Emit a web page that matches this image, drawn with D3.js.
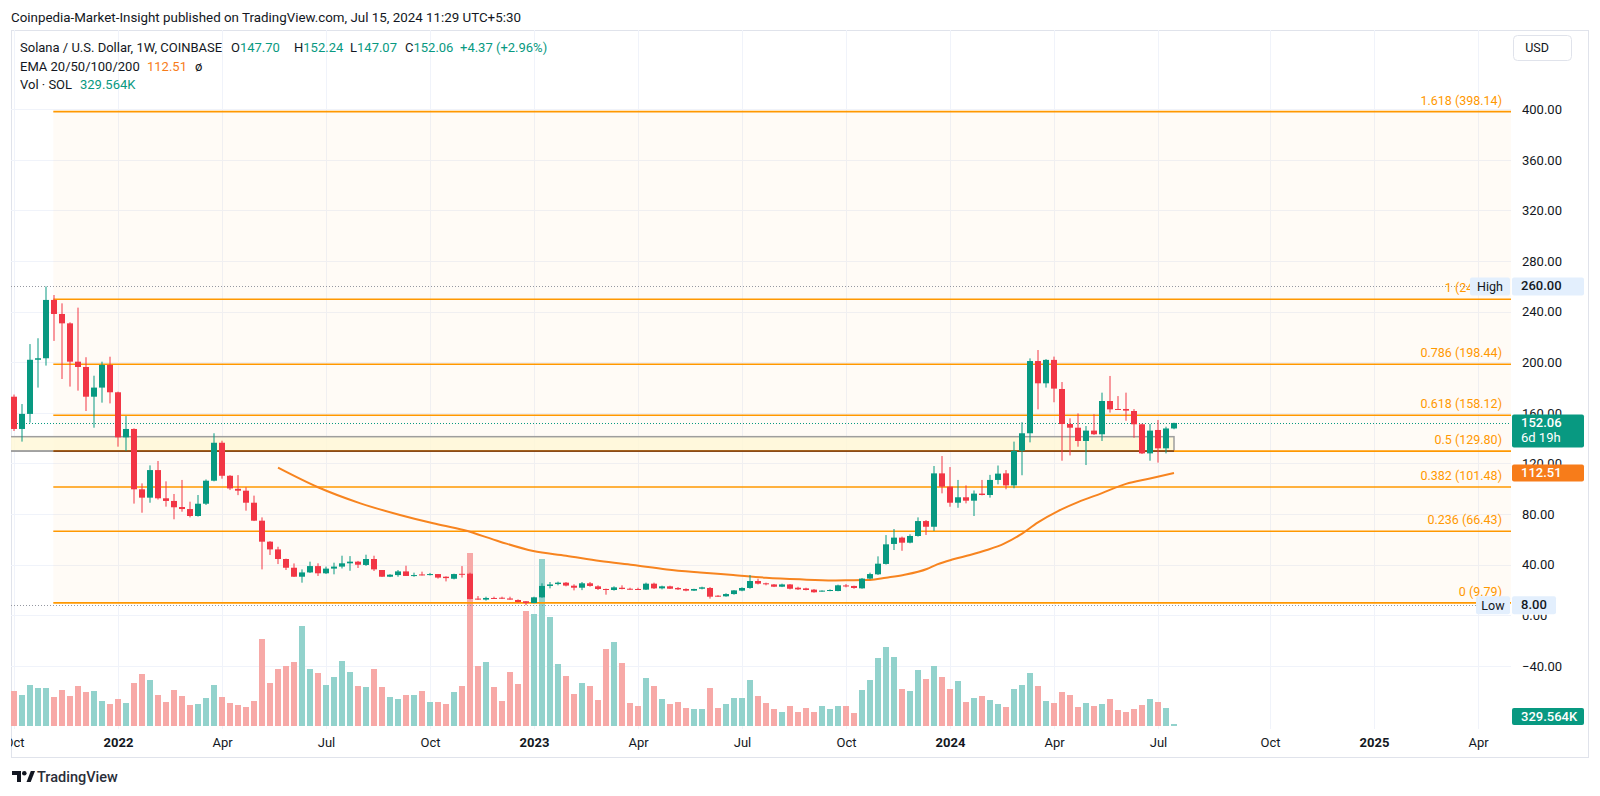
<!DOCTYPE html>
<html>
<head>
<meta charset="utf-8">
<script src="https://cdn.jsdelivr.net/npm/d3@7"></script>
<style>
  html, body { margin: 0; padding: 0; background: #fff; }
  svg { display: block; font-family: Roboto, "Noto Sans", sans-serif; }
</style>
</head>
<body>
<div id="chart"></div>
<script>
// weekly SOL/USD candles, first week = 2021-10-04
const firstWeek = "2021-10-04";

const opens = [
  172.8, 147.3, 159.2, 202, 203.2, 249.3, 238.2, 230.8, 200.5, 196.3,
  172.8, 180, 197.9, 176.3, 140.7, 147.3, 99.6, 93, 114.8, 92.5,
  90.4, 85.6, 84, 78.5, 88.2, 106.4, 136.4, 110.3, 100, 98.5,
  89, 74.8, 58.2, 52.1, 44.5, 37.6, 30.5, 33.9, 38.9, 33.2,
  36.9, 38.5, 41.1, 42.4, 39.8, 44.5, 35.8, 30.5, 31.8, 34.7,
  31.1, 32.3, 31.8, 32.6, 30.5, 28.9, 32.8, 32.9, 13.2, 12.4,
  13.7, 13.9, 13.3, 12.1, 11.1, 9.7, 14.2, 23.2, 24.7, 25.8,
  23.4, 21.8, 25.3, 22.9, 20.8, 20, 21.8, 21, 20.8, 20.3,
  25, 21.3, 22.9, 21.6, 20.8, 19.5, 21, 21.6, 15.5, 15,
  16.8, 19.5, 21.6, 27.1, 25.3, 24.4, 22.6, 24.4, 21.8, 21.3,
  20.3, 19, 19.2, 19.2, 23.6, 23.2, 21.3, 29, 32.4, 40.6,
  56.4, 61.4, 57.4, 62.7, 74.5, 70, 112.2, 101.7, 89, 93.3,
  90.6, 96.2, 95.1, 107, 112.2, 102.7, 130.1, 143.9, 201, 183.4,
  201.9, 178.9, 151.2, 148.3, 137.8, 146, 143.1, 169.4, 163.1, 163.1,
  161.5, 151, 128, 146.5, 132, 147.70
];
const highs = [
  174.5, 167, 214.4, 219, 259.9, 253.2, 246.6, 231.6, 243.2, 204,
  189.4, 200.5, 204.4, 176.8, 157.5, 147.8, 104.3, 118.5, 122, 105.9,
  95.9, 107, 89.8, 95.1, 107.4, 143.9, 138, 110.8, 110.8, 101.2,
  94.6, 77.4, 58.6, 54.2, 44.8, 41, 36.3, 42.4, 41.1, 38.5,
  41.6, 47.1, 46.8, 43, 47.9, 47.1, 35.8, 32.5, 35.8, 39.2,
  33.7, 34.5, 33.5, 32.6, 30.8, 32.9, 38.9, 33.7, 15.2, 14.7,
  14.7, 14.7, 14.7, 12.6, 11.1, 14.7, 25.3, 26.3, 26.6, 26.3,
  24.5, 26.3, 26.3, 23.7, 21.1, 22.9, 23.7, 21.8, 21.8, 25.8,
  25.8, 23.4, 23.4, 22.3, 21.3, 21, 22.6, 22.3, 15.9, 17.4,
  19.9, 22.1, 31.8, 28.9, 25.8, 24.7, 25, 24.7, 22.6, 21.8,
  20.8, 19.7, 20.5, 24.2, 24.7, 23.4, 29.5, 33.7, 46.6, 63.4,
  68.2, 62.2, 64, 77.4, 75.3, 118, 125.9, 117.2, 107, 102.7,
  98.7, 107, 111, 118.4, 114.8, 137.3, 152.6, 203.1, 209.7, 202.5,
  204.5, 184.4, 155.7, 159.6, 149.6, 158.9, 176, 189.2, 173.3, 176,
  163, 151.5, 151.2, 154.4, 149.1, 152.24
];
const lows = [
  145.7, 137.3, 152.3, 180, 197.4, 216.9, 186.8, 180.8, 177.6, 161.5,
  148.3, 168.1, 167.5, 133.3, 129.9, 88.3, 81.1, 89, 91.5, 85.9,
  75.9, 81.9, 77.4, 78, 87.2, 105.9, 108, 99, 95, 82.7,
  74.5, 36.3, 47.7, 40.5, 35.8, 30.3, 25.8, 33.5, 31.1, 32.6,
  32.4, 37, 35.2, 37.4, 39, 35, 30.3, 30.2, 30.5, 31.1,
  30.5, 31.5, 31.5, 29, 26.8, 28.4, 29.8, 12.6, 12.2, 11.6,
  13, 12.9, 12.4, 10.2, 8.0, 9.6, 13.9, 21.3, 23.7, 22.9,
  19.7, 19.9, 22.6, 20, 16.3, 19.5, 20.5, 20.2, 20, 20,
  20.8, 20.5, 20.8, 20, 19, 19.2, 20.5, 13.2, 14.5, 14.7,
  16.3, 19, 21, 24.4, 23.7, 22.3, 22.3, 20.5, 20, 19.7,
  17.9, 18.7, 19, 19, 22.1, 21, 21, 28.4, 31.9, 40.1,
  51.6, 51, 56.9, 62.2, 63.5, 66.7, 96.4, 85.8, 85, 88.5,
  78.5, 94.8, 93, 103.5, 99.6, 100.4, 110.7, 136.7, 162.8, 180,
  168.4, 122.2, 126.4, 133.3, 118.8, 142.6, 137.8, 160.2, 162.4, 153.8,
  140.4, 127.5, 122.2, 120.7, 128, 147.07
];
const closes = [
  147.3, 159.2, 202, 203.2, 249.3, 238.2, 230.8, 200.5, 196.3, 172.8,
  180, 197.9, 176.3, 140.7, 147.3, 99.6, 93, 114.8, 92.5, 90.4,
  85.4, 84, 78.5, 88.2, 106.4, 136.4, 110.3, 100.3, 98.5, 89,
  74.8, 58.2, 52.1, 44.5, 37.6, 30.5, 33.9, 38.9, 33.2, 36.9,
  38.5, 41.1, 42.4, 40, 44.5, 36.3, 30.5, 32.1, 34.7, 31.1,
  31.8, 31.6, 32.6, 29.8, 29.4, 32.6, 32.4, 12.9, 12.4, 13.7,
  13.2, 13.2, 12.4, 10.5, 9.7, 14.2, 23.2, 24.4, 25.8, 23.5,
  21.8, 25.3, 23.2, 20.8, 20.5, 22.1, 20.8, 20.8, 20.5, 25,
  21.3, 22.9, 21, 20.5, 19.5, 20.8, 22.1, 14.7, 15, 16.8,
  19.7, 21.6, 27.1, 25, 24.5, 22.6, 24.4, 21, 20.5, 20,
  18.2, 19.5, 20, 23.7, 22.8, 21.6, 29, 32.6, 40.8, 56.1,
  61.4, 57.4, 62.7, 74.5, 70, 112.2, 101.7, 89, 93.3, 90.6,
  96.2, 95.1, 107, 112, 102.7, 130, 143.9, 201, 183.4, 201.9,
  179.2, 151.2, 148.3, 137.8, 146, 143.1, 169.4, 162.8, 162.6, 161.8,
  151, 128, 146, 132, 147.7, 152.06
];
// volume, millions of SOL
const volumes = [
  6.8, 6.1, 8.1, 7.4, 7.4, 5.7, 7.1, 5.9, 7.9, 6.7,
  6.9, 4.9, 4.3, 5.3, 4.6, 8.5, 10.2, 9.1, 6.1, 4.8,
  7.1, 6.0, 4.1, 4.4, 5.5, 8.1, 5.7, 4.5, 4.1, 3.8,
  4.9, 17.2, 8.5, 11.3, 11.8, 12.6, 19.7, 11.3, 10.4, 8.1,
  9.7, 12.8, 10.7, 7.8, 7.6, 11.3, 7.6, 5.7, 5.3, 6.1,
  6.1, 6.9, 4.8, 4.8, 4.3, 6.7, 7.8, 34.0, 11.9, 12.6,
  7.6, 5.0, 10.6, 8.3, 22.7, 22.0, 33.0, 21.5, 12.2, 9.9,
  6.3, 8.5, 7.8, 5.1, 15.1, 16.5, 12.5, 4.6, 3.9, 9.5,
  7.9, 5.3, 4.4, 4.8, 3.6, 3.4, 3.4, 7.4, 3.6, 4.4,
  5.5, 5.5, 9.1, 5.9, 4.5, 3.3, 2.8, 3.9, 2.8, 3.6,
  2.8, 3.9, 3.3, 3.9, 3.9, 2.6, 7.1, 9.1, 13.4, 15.6,
  13.6, 7.2, 6.9, 11.1, 9.3, 11.9, 9.7, 7.2, 8.9, 4.8,
  5.5, 5.9, 5.1, 4.3, 3.8, 7.2, 8.1, 10.4, 7.8, 5.0,
  4.6, 6.7, 6.1, 3.8, 4.6, 3.9, 4.3, 5.3, 3.1, 2.8,
  3.4, 4.1, 5.3, 4.8, 3.6, 0.33
];

// EMA line (week index, value)
const emaWeeks = [33, 38, 43.3, 48.25, 52.4, 56.2, 60.75, 64.9, 69, 73.25, 77.4, 81.6, 85.75, 89.9, 94, 98.25,
  102.4, 105, 107, 109, 111.2, 114.1, 115.4, 117.4, 119.5, 121.6, 123.7, 125.75, 128, 130.5, 133, 136, 139, 142, 145];
const emaValues = [116.7, 101.2, 88.5, 79.3, 72.7, 67.4, 58.2, 50.8, 47.1, 42.9, 39.7, 36.3, 33.9, 31.8, 29.7, 28.4,
  27.6, 27.8, 27.9, 29.7, 31.9, 36.6, 40.3, 44.3, 47.7, 51.6, 56.4, 63.5, 73.5, 82.4, 89.5, 96.6, 103.9, 108.1, 112.51];

const fibLevels = ["1.618", "1", "0.786", "0.618", "0.5", "0.382", "0.236", "0"];
const fibPrices = [398.14, 249.81, 198.44, 158.12, 129.80, 101.48, 66.43, 9.79];
const fibStart = "2021-11-08";

const boxTop = 141.2, boxBottom = 129.8;   // drawn rectangle
const highPrice = 260, lowPrice = 8;
const lastPrice = 152.06, emaLast = 112.51;

const priceTicks = [400, 360, 320, 280, 240, 200, 160, 120, 80, 40, 0, -40];
const timeTicks = ["2021-10-04", "2022-01-03", "2022-04-04", "2022-07-04", "2022-10-03", "2023-01-02", "2023-04-03",
  "2023-07-03", "2023-10-02", "2024-01-01", "2024-04-01", "2024-07-01", "2024-10-07", "2025-01-06", "2025-04-07"];
const timeLabels = ["Oct", "2022", "Apr", "Jul", "Oct", "2023", "Apr", "Jul", "Oct", "2024", "Apr", "Jul", "Oct", "2025", "Apr"];

//
const W = 1600, H = 796;
const pL = 11, pR = 1511, pT = 30, pB = 729;
const UP = "#089981", DOWN = "#f23645";
const VUP = "#92d2cc", VDOWN = "#f7a9a7";
const FIB = "#ff9800";

const parse = d3.utcParse("%Y-%m-%d");
const week0 = parse(firstWeek);
const weekDate = i => new Date(week0.getTime() + i * 7 * 864e5);
const weeks = opens.map((d, i) => weekDate(i));

const x = d3.scaleUtc().domain([week0, weeks[weeks.length - 1]]).range([14, 1174]);
const y = d3.scaleLinear().domain([0, 400]).range([615.3, 109.3]);
const yVol = d3.scaleLinear().domain([0, 40]).range([726, 523]);

const svg = d3.select("#chart").append("svg")
  .attr("width", W)
  .attr("height", H);

svg.append("rect").attr("width", W).attr("height", H).attr("fill", "#fff");

const defs = svg.append("defs");
defs.append("clipPath").attr("id", "plot")
  .append("rect").attr("x", pL).attr("y", pT).attr("width", pR - pL).attr("height", pB - pT);
defs.append("clipPath").attr("id", "timeclip")
  .append("rect").attr("x", pL).attr("y", pB).attr("width", pR - pL).attr("height", 28);

// header
svg.append("text")
  .attr("x", 11).attr("y", 22)
  .attr("font-size", 13.35).attr("fill", "#131722")
  .text("Coinpedia-Market-Insight published on TradingView.com, Jul 15, 2024 11:29 UTC+5:30");

// frame
svg.append("rect")
  .attr("x", pL + 0.5).attr("y", pT + 0.5)
  .attr("width", 1588 - pL).attr("height", 757 - pT)
  .attr("fill", "none").attr("stroke", "#e0e3eb");

const plot = svg.append("g").attr("clip-path", "url(#plot)");

// grid
plot.append("g").selectAll("line")
  .data(priceTicks)
  .join("line")
  .attr("x1", pL).attr("x2", pR)
  .attr("y1", d => Math.round(y(d)) + 0.5).attr("y2", d => Math.round(y(d)) + 0.5)
  .attr("stroke", "#f0f3fa");
plot.append("g").selectAll("line")
  .data(timeTicks)
  .join("line")
  .attr("x1", d => Math.round(x(parse(d))) + 0.5).attr("x2", d => Math.round(x(parse(d))) + 0.5)
  .attr("y1", pT).attr("y2", pB)
  .attr("stroke", "#f0f3fa");

// fib background
const fx = x(parse(fibStart)) - 0.7;
plot.append("rect")
  .attr("x", fx).attr("y", y(fibPrices[0]))
  .attr("width", pR - fx).attr("height", y(fibPrices[fibPrices.length - 1]) - y(fibPrices[0]))
  .attr("fill", FIB).attr("fill-opacity", 0.035);

// rectangle drawing
const boxRight = x(weeks[weeks.length - 1]);
plot.append("rect")
  .attr("x", 0).attr("y", y(boxTop))
  .attr("width", boxRight).attr("height", y(boxBottom) - y(boxTop))
  .attr("fill", "#fff8d6").attr("fill-opacity", 0.8)
  .attr("stroke", "#9e9e9e").attr("stroke-width", 1.5);

// volume
plot.append("g").selectAll("rect")
  .data(volumes)
  .join("rect")
  .attr("x", (d, i) => x(weeks[i]) - 3)
  .attr("width", 6)
  .attr("y", d => yVol(d))
  .attr("height", d => Math.max(1, yVol(0) - yVol(d)))
  .attr("fill", (d, i) => closes[i] >= opens[i] ? VUP : VDOWN)
  .attr("shape-rendering", "crispEdges");

// fib lines
plot.append("g").selectAll("line")
  .data(fibPrices)
  .join("line")
  .attr("x1", fx).attr("x2", pR)
  .attr("y1", d => y(d)).attr("y2", d => y(d))
  .attr("stroke", FIB).attr("stroke-width", 1.6);
// 0.5 line where it lies over the rectangle edge
plot.append("line")
  .attr("x1", fx).attr("x2", boxRight)
  .attr("y1", y(boxBottom)).attr("y2", y(boxBottom))
  .attr("stroke", "#8a4a17").attr("stroke-width", 1.8);
plot.append("line")
  .attr("x1", pL).attr("x2", fx)
  .attr("y1", y(boxBottom)).attr("y2", y(boxBottom))
  .attr("stroke", "#9e9e9e").attr("stroke-width", 1.5);

// high / low / last dotted lines
[[highPrice, "#9598a1"], [lowPrice, "#9598a1"], [lastPrice, UP]].forEach(([p, c]) => {
  plot.append("line")
    .attr("x1", pL).attr("x2", pR)
    .attr("y1", Math.round(y(p)) + 0.5).attr("y2", Math.round(y(p)) + 0.5)
    .attr("stroke", c).attr("stroke-dasharray", "1,2");
});

// EMA
const emaLine = d3.line()
  .x((d, i) => x(weekDate(emaWeeks[i])))
  .y(d => y(d))
  .curve(d3.curveMonotoneX);
plot.append("path")
  .datum(emaValues)
  .attr("d", emaLine)
  .attr("fill", "none")
  .attr("stroke", "#f7841f")
  .attr("stroke-width", 2);

// candles
const candles = plot.append("g");
weeks.forEach((w, i) => {
  const cx = x(w);
  const col = closes[i] >= opens[i] ? UP : DOWN;
  candles.append("line")
    .attr("x1", cx).attr("x2", cx)
    .attr("y1", y(highs[i])).attr("y2", y(lows[i]))
    .attr("stroke", col).attr("stroke-width", 1);
  const y0 = y(Math.max(opens[i], closes[i]));
  const y1 = y(Math.min(opens[i], closes[i]));
  candles.append("rect")
    .attr("x", cx - 3).attr("width", 6)
    .attr("y", y0).attr("height", Math.max(1, y1 - y0))
    .attr("fill", col);
});

// fib labels (the "1" label runs under the High marker, as on the chart)
defs.append("clipPath").attr("id", "fibclip")
  .append("rect").attr("x", pL).attr("y", pT).attr("width", 1470 - pL).attr("height", pB - pT);
svg.append("g").selectAll("text")
  .data(fibPrices)
  .join("text")
  .attr("x", 1502).attr("y", d => y(d) - 7)
  .attr("text-anchor", "end")
  .attr("font-size", 12.5)
  .attr("fill", FIB)
  .attr("clip-path", (d, i) => fibLevels[i] === "1" ? "url(#fibclip)" : null)
  .text((d, i) => `${fibLevels[i]} (${d.toFixed(2)})`);

// time axis
const xAxis = d3.axisBottom(x)
  .tickValues(timeTicks.map(parse))
  .tickFormat((d, i) => timeLabels[i])
  .tickSize(0)
  .tickPadding(0);
const gx = svg.append("g")
  .attr("clip-path", "url(#timeclip)")
  .append("g")
  .attr("transform", "translate(0,742)")
  .call(xAxis);
gx.select(".domain").remove();
gx.selectAll("text")
  .attr("dy", "0.35em")
  .attr("font-family", "Roboto, sans-serif")
  .attr("font-size", 13)
  .attr("fill", "#131722")
  .attr("font-weight", (d, i) => /^\d{4}$/.test(timeLabels[i]) ? 700 : 400);

// price axis (labels that sit under a price tag are cut, as on the chart)
const hidden = [
  [y(lastPrice) + 8 - 16.5, y(lastPrice) + 8 + 16.5],
  [y(emaLast) - 8.5, y(emaLast) + 8.5],
  [y(lowPrice) - 9, y(lowPrice) + 9],
  [y(highPrice) - 9, y(highPrice) + 9]
];
const yAxis = d3.axisRight(y)
  .tickValues(priceTicks)
  .tickFormat(d => (d < 0 ? "\u2212" : "") + Math.abs(d).toFixed(2))
  .tickSize(0)
  .tickPadding(0);
const gy = svg.append("g")
  .attr("transform", "translate(1522,0)")
  .call(yAxis);
gy.select(".domain").remove();
gy.selectAll("text")
  .attr("font-family", "Roboto, sans-serif")
  .attr("font-size", 13)
  .attr("fill", "#131722");
gy.selectAll(".tick").each(function (d) {
  const yc = y(d);
  const cover = hidden.find(([a, b]) => yc + 7 > a && yc - 7 < b);
  if (!cover) return;
  const above = yc - 7 < cover[0], below = yc + 7 > cover[1];
  if (!above && !below) { d3.select(this).remove(); return; }
  // clip in the tick's own coordinates (origin at the label's centre line)
  const id = "tk" + String(d).replace("-", "m");
  const cp = defs.append("clipPath").attr("id", id);
  if (above) cp.append("rect").attr("x", -12).attr("y", -12).attr("width", 80).attr("height", cover[0] - yc + 12);
  if (below) cp.append("rect").attr("x", -12).attr("y", cover[1] - yc).attr("width", 80).attr("height", yc + 12 - cover[1]);
  d3.select(this).select("text").attr("clip-path", `url(#${id})`);
});

// labels on the price axis
function tag(xl, yc, w, h, fill, lines, color) {
  svg.append("rect")
    .attr("x", xl).attr("y", yc - h / 2).attr("width", w).attr("height", h)
    .attr("rx", 2).attr("fill", fill);
  lines.forEach((t, k) => {
    svg.append("text")
      .attr("x", xl + 9).attr("y", yc - h / 2 + 13 + k * 15)
      .attr("font-size", 13).attr("fill", color)
      .attr("font-weight", k === 0 ? 500 : 400)
      .text(t);
  });
}
const TAG = "#e3effd";
// High / Low markers
svg.append("rect").attr("x", 1470).attr("y", y(highPrice) - 9).attr("width", 40).attr("height", 18).attr("rx", 2).attr("fill", TAG);
svg.append("text").attr("x", 1490).attr("y", y(highPrice) + 4.5).attr("text-anchor", "middle")
  .attr("font-size", 12.5).attr("fill", "#131722").text("High");
svg.append("rect").attr("x", 1476).attr("y", y(lowPrice) - 9).attr("width", 34).attr("height", 18).attr("rx", 2).attr("fill", TAG);
svg.append("text").attr("x", 1493).attr("y", y(lowPrice) + 4.5).attr("text-anchor", "middle")
  .attr("font-size", 12.5).attr("fill", "#131722").text("Low");

tag(1512, y(highPrice), 72, 18, TAG, [highPrice.toFixed(2)], "#131722");
tag(1512, y(lowPrice), 44, 18, TAG, [lowPrice.toFixed(2)], "#131722");
tag(1512, y(lastPrice) + 8, 72, 33, UP, [lastPrice.toFixed(2), "6d 19h"], "#fff");
tag(1512, y(emaLast), 72, 17, "#f77c1a", [emaLast.toFixed(2)], "#fff");
tag(1512, 716.5, 72, 17, UP, ["329.564K"], "#fff");

// USD button
svg.append("rect")
  .attr("x", 1513.5).attr("y", 35.5).attr("width", 58).attr("height", 25).attr("rx", 4)
  .attr("fill", "#fff").attr("stroke", "#e0e3eb");
svg.append("text").attr("x", 1537).attr("y", 52).attr("text-anchor", "middle")
  .attr("font-size", 12.5).attr("fill", "#131722").text("USD");

// legend
const last = opens.length - 1;
const lg = svg.append("g").attr("font-size", 13).attr("fill", "#131722");
lg.append("text").attr("x", 20).attr("y", 52).text("Solana / U.S. Dollar, 1W, COINBASE");
[["O", opens[last], 231], ["H", highs[last], 294], ["L", lows[last], 350], ["C", closes[last], 405]].forEach(([k, v, px]) => {
  const t = lg.append("text").attr("x", px).attr("y", 52);
  t.append("tspan").text(k);
  t.append("tspan").attr("fill", UP).text(v.toFixed(2));
});
lg.append("text").attr("x", 460).attr("y", 52).attr("fill", UP).text("+4.37 (+2.96%)");
lg.append("text").attr("x", 20).attr("y", 70.5).text("EMA 20/50/100/200");
lg.append("text").attr("x", 147).attr("y", 70.5).attr("fill", "#f77c1a").text(emaLast.toFixed(2));
lg.append("text").attr("x", 195).attr("y", 70.5).text("\u00f8");
lg.append("text").attr("x", 20).attr("y", 88.5).text("Vol \u00b7 SOL");
lg.append("text").attr("x", 80).attr("y", 88.5).attr("fill", UP).text("329.564K");

// TradingView logo
const logo = svg.append("g").attr("fill", "#131722");
logo.append("path").attr("d", "M12,771 H21 V782 H17 V775 H12 Z");
logo.append("circle").attr("cx", 24.3).attr("cy", 773.3).attr("r", 2.3);
logo.append("path").attr("d", "M26.5,782 L30.8,771 H35 L30.7,782 Z");
svg.append("text")
  .attr("x", 37).attr("y", 782)
  .attr("font-size", 14.5).attr("font-weight", 500).attr("fill", "#2a2e39")
  .text("TradingView");
</script>
</body>
</html>
